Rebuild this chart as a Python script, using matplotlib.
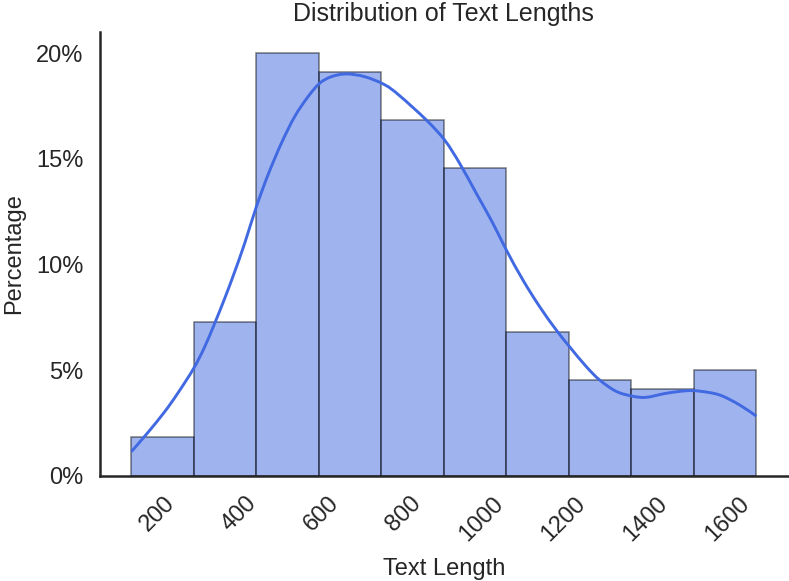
import numpy as np
import matplotlib
matplotlib.use("Agg")
import matplotlib.pyplot as plt
from matplotlib.ticker import FuncFormatter
from matplotlib.path import Path
from matplotlib.patches import PathPatch
from matplotlib.transforms import ScaledTranslation

# ---- data ----
x_min = 93.0
x_max = 1615.0
n_bins = 10
bin_counts = [4, 16, 44, 42, 37, 32, 15, 10, 9, 11]

kde_x = [93.4, 133.8, 174.5, 206.9, 245.1, 271.9, 296.2, 320.6, 344.9, 369.3,
         397.8, 426.0, 458.6, 491.0, 523.4, 551.9, 580.4, 616.9, 661.5, 710.2,
         746.7, 811.7, 856.3, 892.8, 933.4, 973.9, 1006.5, 1046.9, 1087.6, 1128.2,
         1160.6, 1201.3, 1233.7, 1274.3, 1314.7, 1347.4, 1396.1, 1444.8, 1477.2,
         1525.9, 1574.5, 1615.2]
kde_y = [1.14, 2.05, 3.03, 3.92, 5.08, 6.10, 7.21, 8.39, 9.65, 11.0,
         12.73, 14.23, 15.73, 16.99, 17.93, 18.57, 18.88, 19.01, 18.88, 18.50,
         17.98, 16.83, 15.88, 14.78, 13.36, 11.94, 10.68, 9.26, 8.00, 6.89,
         6.10, 5.16, 4.53, 3.99, 3.76, 3.71, 3.90, 4.02, 4.00,
         3.82, 3.35, 2.82]

x_ticks = [200, 400, 600, 800, 1000, 1200, 1400, 1600]
y_ticks = [0, 5, 10, 15, 20]

title = "Distribution of Text Lengths"
xlabel = "Text Length"
ylabel = "Percentage"

# ---- style ----
plt.rcParams['font.family'] = ['Liberation Sans', 'DejaVu Sans']
text_color = '#262626'
plt.rcParams['text.color'] = text_color
plt.rcParams['axes.labelcolor'] = text_color
plt.rcParams['xtick.color'] = text_color
plt.rcParams['ytick.color'] = text_color

W, H = 789, 581
fig = plt.figure(figsize=(W / 100, H / 100), dpi=100)
ax = fig.add_axes([100 / W, (H - 475.7) / H, 687.5 / W, (475.7 - 31.9) / H])

edges = np.linspace(x_min, x_max, n_bins + 1)
counts = np.array(bin_counts, dtype=float)
pct = counts / counts.sum() * 100

ax.bar(edges[:-1], pct, width=np.diff(edges), align='edge',
       color='royalblue', alpha=0.5, edgecolor='black', linewidth=1.1)


def smooth_path(xs, ys):
    """Catmull-Rom curve drawn through the read points as cubic Beziers."""
    p = np.column_stack([xs, ys]).astype(float)
    verts = [p[0]]
    codes = [Path.MOVETO]
    n = len(p)
    for i in range(n - 1):
        p0 = p[i - 1] if i > 0 else p[i]
        p1 = p[i]
        p2 = p[i + 1]
        p3 = p[i + 2] if i + 2 < n else p[i + 1]
        c1 = p1 + (p2 - p0) / 6.0
        c2 = p2 - (p3 - p1) / 6.0
        verts += [c1, c2, p2]
        codes += [Path.CURVE4] * 3
    return Path(verts, codes)


ax.add_patch(PathPatch(smooth_path(kde_x, kde_y), facecolor='none',
                       edgecolor='royalblue', linewidth=2.1, capstyle='butt'))
# invisible anchor so autoscaling accounts for the curve
ax.plot(kde_x, kde_y, alpha=0)

ax.set_xticks(x_ticks)
ax.set_xticklabels([str(t) for t in x_ticks], rotation=45, ha='right')
ax.set_yticks(y_ticks)
ax.yaxis.set_major_formatter(FuncFormatter(lambda v, p: f"{v:.0f}%"))
ax.tick_params(axis='both', length=0, labelsize=17)
ax.tick_params(axis='x', pad=12)
ax.tick_params(axis='y', pad=12)

shift = ScaledTranslation(4 / 100, 0, fig.dpi_scale_trans)
for lbl in ax.get_xticklabels():
    lbl.set_transform(lbl.get_transform() + shift)

ax.set_title(title, fontsize=18, pad=8)
ax.set_xlabel(xlabel, fontsize=17, labelpad=9)
ax.set_ylabel(ylabel, fontsize=17, labelpad=8)

for s in ['top', 'right']:
    ax.spines[s].set_visible(False)
for s in ['left', 'bottom']:
    ax.spines[s].set_color(text_color)
    ax.spines[s].set_linewidth(1.8)

fig.savefig('out.png', dpi=100, facecolor='white')
